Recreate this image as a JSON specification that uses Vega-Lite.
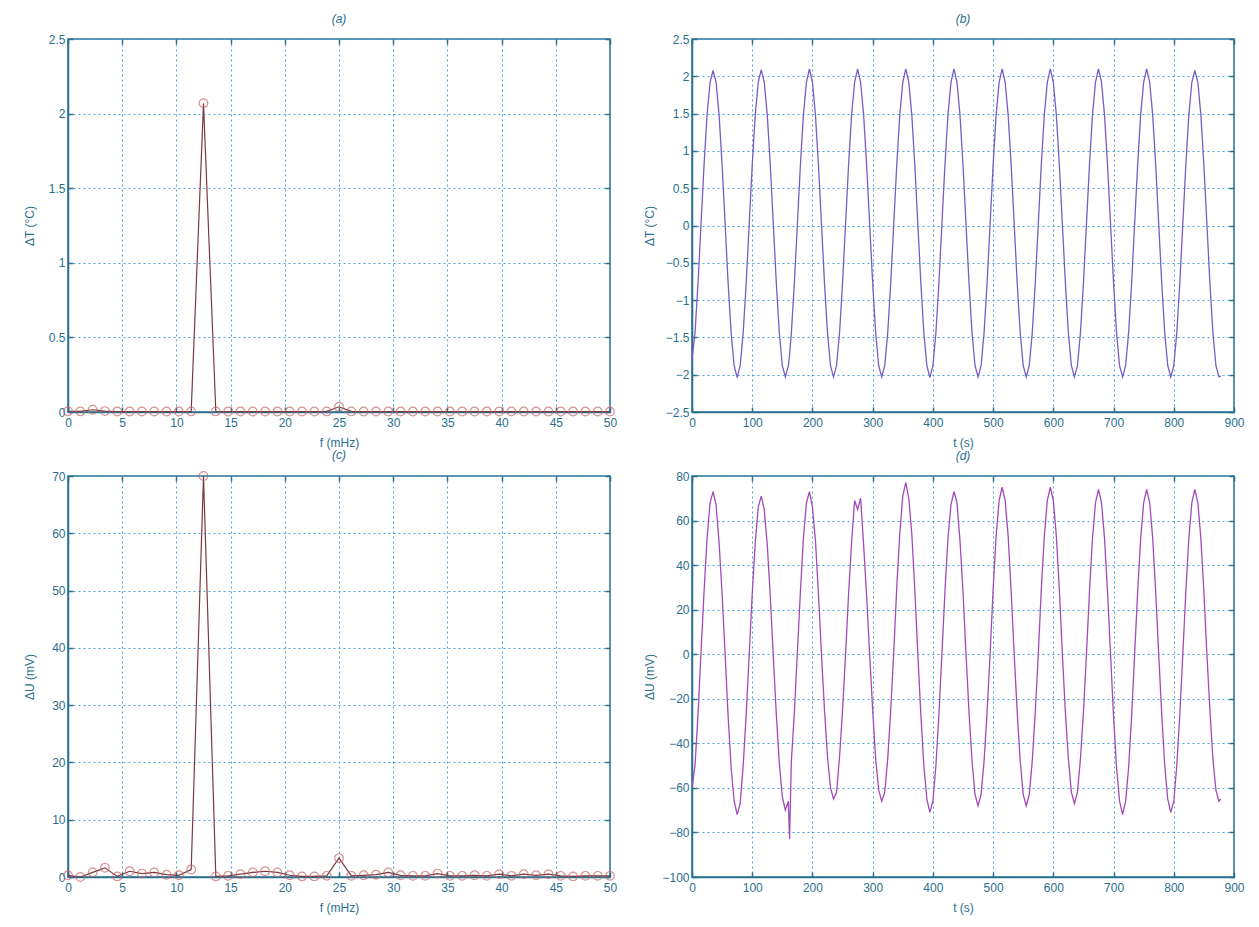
{
  "$schema": "https://vega.github.io/schema/vega-lite/v6.json",
  "padding": {"left": 22, "top": 12, "right": 5, "bottom": 5},
  "background": "white",
  "columns": 2,
  "spacing": {"row": 64, "column": 82},
  "bounds": "flush",
  "config": {
    "view": {"stroke": "#2a6f8e", "strokeWidth": 1.5},
    "axis": {
      "domainColor": "#2a6f8e", "domainWidth": 1.5,
      "tickColor": "#2a6f8e", "tickSize": -5, "tickWidth": 1.5,
      "labelColor": "#2a6f8e", "labelFont": "Liberation Sans", "labelFontSize": 12,
      "labelFlush": false, "labelOverlap": false, "labelPadding": 8,
      "titleColor": "#2a6f8e", "titleFont": "Liberation Sans", "titleFontSize": 12, "titleFontWeight": "normal",
      "gridColor": "#4ba6d6", "gridDash": [2, 3], "gridWidth": 1, "gridOpacity": 1
    },
    "axisX": {"labelPadding": 10, "titlePadding": 9},
    "title": {"font": "Liberation Sans", "fontSize": 12, "fontStyle": "italic", "fontWeight": "normal", "color": "#2a6f8e", "offset": 7}
  },
  "datasets": {
    "spec": [
      {"f": 0, "a": 0.005, "c": 0.3},
      {"f": 1.136, "a": 0.004, "c": 0.0},
      {"f": 2.273, "a": 0.015, "c": 0.8},
      {"f": 3.409, "a": 0.006, "c": 1.6},
      {"f": 4.545, "a": 0.003, "c": 0.1},
      {"f": 5.682, "a": 0.003, "c": 1.0},
      {"f": 6.818, "a": 0.003, "c": 0.6},
      {"f": 7.955, "a": 0.003, "c": 0.8},
      {"f": 9.091, "a": 0.003, "c": 0.4},
      {"f": 10.227, "a": 0.003, "c": 0.3},
      {"f": 11.364, "a": 0.004, "c": 1.3},
      {"f": 12.5, "a": 2.07, "c": 70},
      {"f": 13.636, "a": 0.004, "c": 0.1},
      {"f": 14.773, "a": 0.003, "c": 0.2},
      {"f": 15.909, "a": 0.003, "c": 0.5},
      {"f": 17.045, "a": 0.003, "c": 0.8},
      {"f": 18.182, "a": 0.003, "c": 1.0},
      {"f": 19.318, "a": 0.003, "c": 0.8},
      {"f": 20.455, "a": 0.003, "c": 0.3},
      {"f": 21.591, "a": 0.003, "c": 0.1},
      {"f": 22.727, "a": 0.003, "c": 0.1},
      {"f": 23.864, "a": 0.004, "c": 0.2},
      {"f": 25.0, "a": 0.035, "c": 3.3},
      {"f": 26.136, "a": 0.004, "c": 0.2},
      {"f": 27.273, "a": 0.003, "c": 0.3},
      {"f": 28.409, "a": 0.003, "c": 0.4},
      {"f": 29.545, "a": 0.003, "c": 0.8},
      {"f": 30.682, "a": 0.003, "c": 0.3},
      {"f": 31.818, "a": 0.003, "c": 0.2},
      {"f": 32.955, "a": 0.003, "c": 0.2},
      {"f": 34.091, "a": 0.003, "c": 0.6},
      {"f": 35.227, "a": 0.003, "c": 0.2},
      {"f": 36.364, "a": 0.003, "c": 0.2},
      {"f": 37.5, "a": 0.003, "c": 0.3},
      {"f": 38.636, "a": 0.003, "c": 0.2},
      {"f": 39.773, "a": 0.003, "c": 0.5},
      {"f": 40.909, "a": 0.003, "c": 0.2},
      {"f": 42.045, "a": 0.003, "c": 0.5},
      {"f": 43.182, "a": 0.003, "c": 0.3},
      {"f": 44.318, "a": 0.003, "c": 0.5},
      {"f": 45.455, "a": 0.003, "c": 0.2},
      {"f": 46.591, "a": 0.003, "c": 0.1},
      {"f": 47.727, "a": 0.003, "c": 0.2},
      {"f": 48.864, "a": 0.003, "c": 0.2},
      {"f": 50.0, "a": 0.003, "c": 0.2}
    ],
    "ts": [
      {"t":0,"T":-1.80,"U":-60},{"t":5,"T":-1.44,"U":-50},{"t":10,"T":-0.77,"U":-27},
      {"t":15,"T":0.02,"U":1},{"t":20,"T":0.81,"U":28},{"t":25,"T":1.48,"U":52},{"t":30,"T":1.92,"U":68},{"t":35,"T":2.08,"U":73},{"t":40,"T":1.92,"U":67},{"t":45,"T":1.48,"U":50},{"t":50,"T":0.81,"U":27},
      {"t":55,"T":0.02,"U":0},{"t":60,"T":-0.77,"U":-28},{"t":65,"T":-1.44,"U":-51},{"t":70,"T":-1.88,"U":-66},{"t":75,"T":-2.04,"U":-72},{"t":80,"T":-1.88,"U":-67},{"t":85,"T":-1.44,"U":-50},{"t":90,"T":-0.77,"U":-27},
      {"t":95,"T":0.02,"U":0},{"t":100,"T":0.81,"U":27},{"t":105,"T":1.48,"U":50},{"t":110,"T":1.92,"U":66},{"t":115,"T":2.09,"U":71},{"t":120,"T":1.92,"U":65},{"t":125,"T":1.48,"U":49},{"t":130,"T":0.81,"U":26},
      {"t":135,"T":0.02,"U":-1},{"t":140,"T":-0.77,"U":-27},{"t":145,"T":-1.44,"U":-49},{"t":150,"T":-1.88,"U":-64},{"t":155,"T":-2.03,"U":-70},{"t":160,"T":-1.88,"U":-66},{"t":162,"T":-1.74,"U":-83},{"t":165,"T":-1.44,"U":-48},{"t":170,"T":-0.77,"U":-26},
      {"t":175,"T":0.02,"U":1},{"t":180,"T":0.81,"U":28},{"t":185,"T":1.48,"U":52},{"t":190,"T":1.92,"U":68},{"t":195,"T":2.10,"U":73},{"t":200,"T":1.92,"U":66},{"t":205,"T":1.48,"U":51},{"t":210,"T":0.81,"U":27},
      {"t":215,"T":0.02,"U":0},{"t":220,"T":-0.77,"U":-25},{"t":225,"T":-1.44,"U":-46},{"t":230,"T":-1.88,"U":-60},{"t":235,"T":-2.03,"U":-65},{"t":240,"T":-1.88,"U":-62},{"t":245,"T":-1.44,"U":-46},{"t":250,"T":-0.77,"U":-25},
      {"t":255,"T":0.02,"U":0},{"t":260,"T":0.81,"U":27},{"t":265,"T":1.48,"U":50},{"t":270,"T":1.92,"U":69},{"t":275,"T":2.10,"U":65},{"t":280,"T":1.92,"U":70},{"t":285,"T":1.48,"U":49},{"t":290,"T":0.81,"U":26},
      {"t":295,"T":0.02,"U":0},{"t":300,"T":-0.77,"U":-25},{"t":305,"T":-1.44,"U":-47},{"t":310,"T":-1.88,"U":-61},{"t":315,"T":-2.03,"U":-66},{"t":320,"T":-1.88,"U":-62},{"t":325,"T":-1.44,"U":-47},{"t":330,"T":-0.77,"U":-25},
      {"t":335,"T":0.02,"U":1},{"t":340,"T":0.81,"U":30},{"t":345,"T":1.48,"U":54},{"t":350,"T":1.92,"U":71},{"t":355,"T":2.10,"U":77},{"t":360,"T":1.92,"U":70},{"t":365,"T":1.48,"U":54},{"t":370,"T":0.81,"U":29},
      {"t":375,"T":0.02,"U":0},{"t":380,"T":-0.77,"U":-27},{"t":385,"T":-1.44,"U":-50},{"t":390,"T":-1.88,"U":-65},{"t":395,"T":-2.04,"U":-71},{"t":400,"T":-1.88,"U":-66},{"t":405,"T":-1.44,"U":-50},{"t":410,"T":-0.77,"U":-27},
      {"t":415,"T":0.02,"U":0},{"t":420,"T":0.81,"U":28},{"t":425,"T":1.48,"U":52},{"t":430,"T":1.92,"U":67},{"t":435,"T":2.10,"U":73},{"t":440,"T":1.92,"U":68},{"t":445,"T":1.48,"U":51},{"t":450,"T":0.81,"U":28},
      {"t":455,"T":0.02,"U":0},{"t":460,"T":-0.77,"U":-26},{"t":465,"T":-1.44,"U":-48},{"t":470,"T":-1.88,"U":-63},{"t":475,"T":-2.03,"U":-68},{"t":480,"T":-1.88,"U":-63},{"t":485,"T":-1.44,"U":-48},{"t":490,"T":-0.77,"U":-26},
      {"t":495,"T":0.02,"U":0},{"t":500,"T":0.81,"U":29},{"t":505,"T":1.48,"U":53},{"t":510,"T":1.92,"U":69},{"t":515,"T":2.10,"U":75},{"t":520,"T":1.92,"U":69},{"t":525,"T":1.48,"U":53},{"t":530,"T":0.81,"U":28},
      {"t":535,"T":0.02,"U":0},{"t":540,"T":-0.77,"U":-26},{"t":545,"T":-1.44,"U":-48},{"t":550,"T":-1.88,"U":-63},{"t":555,"T":-2.03,"U":-68},{"t":560,"T":-1.88,"U":-63},{"t":565,"T":-1.44,"U":-48},{"t":570,"T":-0.77,"U":-26},
      {"t":575,"T":0.02,"U":0},{"t":580,"T":0.81,"U":29},{"t":585,"T":1.48,"U":53},{"t":590,"T":1.92,"U":69},{"t":595,"T":2.10,"U":75},{"t":600,"T":1.92,"U":69},{"t":605,"T":1.48,"U":53},{"t":610,"T":0.81,"U":29},
      {"t":615,"T":0.02,"U":0},{"t":620,"T":-0.77,"U":-26},{"t":625,"T":-1.44,"U":-47},{"t":630,"T":-1.88,"U":-62},{"t":635,"T":-2.03,"U":-67},{"t":640,"T":-1.88,"U":-62},{"t":645,"T":-1.44,"U":-47},{"t":650,"T":-0.77,"U":-26},
      {"t":655,"T":0.02,"U":0},{"t":660,"T":0.81,"U":28},{"t":665,"T":1.48,"U":52},{"t":670,"T":1.92,"U":68},{"t":675,"T":2.10,"U":74},{"t":680,"T":1.92,"U":68},{"t":685,"T":1.48,"U":52},{"t":690,"T":0.81,"U":28},
      {"t":695,"T":0.02,"U":0},{"t":700,"T":-0.77,"U":-28},{"t":705,"T":-1.44,"U":-51},{"t":710,"T":-1.88,"U":-66},{"t":715,"T":-2.03,"U":-72},{"t":720,"T":-1.88,"U":-66},{"t":725,"T":-1.44,"U":-51},{"t":730,"T":-0.77,"U":-28},
      {"t":735,"T":0.02,"U":0},{"t":740,"T":0.81,"U":28},{"t":745,"T":1.48,"U":52},{"t":750,"T":1.92,"U":68},{"t":755,"T":2.10,"U":74},{"t":760,"T":1.92,"U":68},{"t":765,"T":1.48,"U":52},{"t":770,"T":0.81,"U":28},
      {"t":775,"T":0.02,"U":0},{"t":780,"T":-0.77,"U":-27},{"t":785,"T":-1.44,"U":-50},{"t":790,"T":-1.88,"U":-65},{"t":795,"T":-2.03,"U":-71},{"t":800,"T":-1.88,"U":-66},{"t":805,"T":-1.44,"U":-50},{"t":810,"T":-0.77,"U":-27},
      {"t":815,"T":0.02,"U":0},{"t":820,"T":0.81,"U":28},{"t":825,"T":1.48,"U":52},{"t":830,"T":1.92,"U":68},{"t":835,"T":2.08,"U":74},{"t":840,"T":1.92,"U":68},{"t":845,"T":1.48,"U":52},{"t":850,"T":0.81,"U":28},
      {"t":855,"T":0.02,"U":0},{"t":860,"T":-0.77,"U":-25},{"t":865,"T":-1.44,"U":-47},{"t":870,"T":-1.88,"U":-61},{"t":875,"T":-2.03,"U":-66},{"t":878,"T":-2.02,"U":-65}
    ]
  },
  "concat": [
    {
      "width": 542, "height": 373,
      "title": "(a)",
      "data": {"name": "spec"},
      "layer": [
        {"mark": {"type": "line", "color": "#7a3a40", "strokeWidth": 1.2},
         "encoding": {
           "x": {"field": "f", "type": "quantitative", "scale": {"domain": [0, 50], "nice": false}, "axis": {"title": "f (mHz)", "values": [0,5,10,15,20,25,30,35,40,45,50], "format": "~r"}},
           "y": {"field": "a", "type": "quantitative", "scale": {"domain": [0, 2.5], "nice": false}, "axis": {"title": "ΔT (°C)", "values": [0,0.5,1,1.5,2,2.5], "format": "~r", "titleX": -32}}
         }},
        {"mark": {"type": "point", "shape": "circle", "size": 75, "filled": false, "color": "#c96464", "strokeWidth": 1.2},
         "encoding": {
           "x": {"field": "f", "type": "quantitative", "axis": null},
           "y": {"field": "a", "type": "quantitative", "axis": null}
         }},
        {"mark": {"type": "point", "opacity": 0},
         "encoding": {
           "x": {"field": "f", "type": "quantitative", "axis": {"orient": "top", "labels": false, "grid": false, "domain": false, "title": null, "values": [0,5,10,15,20,25,30,35,40,45,50]}},
           "y": {"field": "a", "type": "quantitative", "axis": {"orient": "right", "labels": false, "grid": false, "domain": false, "title": null, "values": [0,0.5,1,1.5,2,2.5]}}
         }}
      ],
      "resolve": {"axis": {"x": "independent", "y": "independent"}}
    },
    {
      "width": 542, "height": 373,
      "title": "(b)",
      "data": {"name": "ts"},
      "layer": [
        {"mark": {"type": "line", "color": "#7a5cc4", "strokeWidth": 1.3},
         "encoding": {
           "x": {"field": "t", "type": "quantitative", "scale": {"domain": [0, 900], "nice": false}, "axis": {"title": "t (s)", "values": [0,100,200,300,400,500,600,700,800,900], "format": "~r"}},
           "y": {"field": "T", "type": "quantitative", "scale": {"domain": [-2.5, 2.5], "nice": false}, "axis": {"title": "ΔT (°C)", "values": [-2.5,-2,-1.5,-1,-0.5,0,0.5,1,1.5,2,2.5], "format": "~r", "titleX": -36}}
         }},
        {"mark": {"type": "point", "opacity": 0},
         "encoding": {
           "x": {"field": "t", "type": "quantitative", "axis": {"orient": "top", "labels": false, "grid": false, "domain": false, "title": null, "values": [0,100,200,300,400,500,600,700,800,900]}},
           "y": {"field": "T", "type": "quantitative", "axis": {"orient": "right", "labels": false, "grid": false, "domain": false, "title": null, "values": [-2.5,-2,-1.5,-1,-0.5,0,0.5,1,1.5,2,2.5]}}
         }}
      ],
      "resolve": {"axis": {"x": "independent", "y": "independent"}}
    },
    {
      "width": 542, "height": 401,
      "title": "(c)",
      "data": {"name": "spec"},
      "layer": [
        {"mark": {"type": "line", "color": "#7a3a40", "strokeWidth": 1.2},
         "encoding": {
           "x": {"field": "f", "type": "quantitative", "scale": {"domain": [0, 50], "nice": false}, "axis": {"title": "f (mHz)", "values": [0,5,10,15,20,25,30,35,40,45,50], "format": "~r"}},
           "y": {"field": "c", "type": "quantitative", "scale": {"domain": [0, 70], "nice": false}, "axis": {"title": "ΔU (mV)", "values": [0,10,20,30,40,50,60,70], "format": "~r", "titleX": -32}}
         }},
        {"mark": {"type": "point", "shape": "circle", "size": 75, "filled": false, "color": "#c96464", "strokeWidth": 1.2},
         "encoding": {
           "x": {"field": "f", "type": "quantitative", "axis": null},
           "y": {"field": "c", "type": "quantitative", "axis": null}
         }},
        {"mark": {"type": "point", "opacity": 0},
         "encoding": {
           "x": {"field": "f", "type": "quantitative", "axis": {"orient": "top", "labels": false, "grid": false, "domain": false, "title": null, "values": [0,5,10,15,20,25,30,35,40,45,50]}},
           "y": {"field": "c", "type": "quantitative", "axis": {"orient": "right", "labels": false, "grid": false, "domain": false, "title": null, "values": [0,10,20,30,40,50,60,70]}}
         }}
      ],
      "resolve": {"axis": {"x": "independent", "y": "independent"}}
    },
    {
      "width": 542, "height": 401,
      "title": "(d)",
      "data": {"name": "ts"},
      "layer": [
        {"mark": {"type": "line", "color": "#a44ab8", "strokeWidth": 1.3},
         "encoding": {
           "x": {"field": "t", "type": "quantitative", "scale": {"domain": [0, 900], "nice": false}, "axis": {"title": "t (s)", "values": [0,100,200,300,400,500,600,700,800,900], "format": "~r"}},
           "y": {"field": "U", "type": "quantitative", "scale": {"domain": [-100, 80], "nice": false}, "axis": {"title": "ΔU (mV)", "values": [-100,-80,-60,-40,-20,0,20,40,60,80], "format": "~r", "titleX": -36}}
         }},
        {"mark": {"type": "point", "opacity": 0},
         "encoding": {
           "x": {"field": "t", "type": "quantitative", "axis": {"orient": "top", "labels": false, "grid": false, "domain": false, "title": null, "values": [0,100,200,300,400,500,600,700,800,900]}},
           "y": {"field": "U", "type": "quantitative", "axis": {"orient": "right", "labels": false, "grid": false, "domain": false, "title": null, "values": [-100,-80,-60,-40,-20,0,20,40,60,80]}}
         }}
      ],
      "resolve": {"axis": {"x": "independent", "y": "independent"}}
    }
  ]
}
